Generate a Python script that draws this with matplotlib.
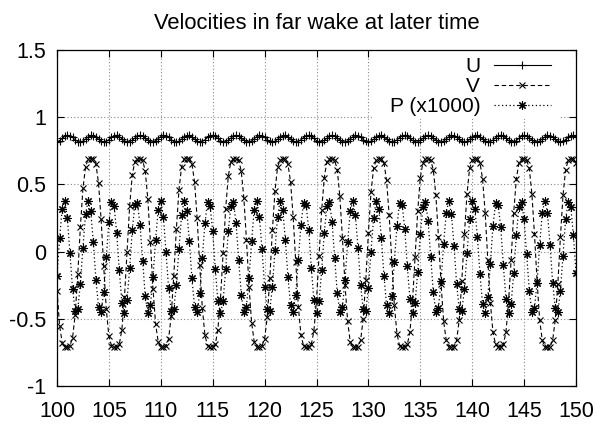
import numpy as np
import matplotlib
matplotlib.use("Agg")
import matplotlib.pyplot as plt
from matplotlib.patches import Rectangle

plt.rcParams['font.family'] = ['Liberation Sans', 'DejaVu Sans']
plt.rcParams['axes.unicode_minus'] = False

# sample times (uniform sampling, dt = 0.25)
t = np.arange(201) * 0.25 + 100.0

U = [0.816,0.826,0.842,0.857,0.865,0.862,0.849,0.832,0.819,0.815,
     0.822,0.837,0.853,0.864,0.863,0.853,0.837,0.822,0.815,0.819,
     0.833,0.850,0.862,0.865,0.856,0.841,0.825,0.816,0.817,0.829,
     0.845,0.859,0.865,0.859,0.845,0.829,0.817,0.816,0.825,0.841,
     0.856,0.865,0.862,0.850,0.833,0.819,0.815,0.822,0.837,0.853,
     0.863,0.864,0.853,0.837,0.822,0.815,0.819,0.832,0.849,0.862,
     0.865,0.857,0.842,0.826,0.816,0.817,0.828,0.845,0.859,0.865,
     0.860,0.846,0.829,0.818,0.816,0.824,0.840,0.856,0.864,0.862,
     0.850,0.834,0.820,0.815,0.821,0.836,0.852,0.863,0.864,0.854,
     0.838,0.823,0.815,0.819,0.832,0.848,0.861,0.865,0.857,0.842,
     0.826,0.816,0.817,0.828,0.844,0.859,0.865,0.860,0.847,0.830,
     0.818,0.815,0.824,0.840,0.855,0.864,0.863,0.851,0.834,0.820,
     0.815,0.821,0.835,0.852,0.863,0.864,0.855,0.839,0.823,0.815,
     0.818,0.831,0.848,0.861,0.865,0.858,0.843,0.827,0.816,0.816,
     0.827,0.843,0.858,0.865,0.861,0.847,0.831,0.818,0.815,0.823,
     0.839,0.855,0.864,0.863,0.851,0.835,0.821,0.815,0.820,0.835,
     0.851,0.863,0.864,0.855,0.839,0.824,0.815,0.818,0.830,0.847,
     0.860,0.865,0.858,0.844,0.827,0.817,0.816,0.826,0.843,0.858,
     0.865,0.861,0.848,0.831,0.819,0.815,0.823,0.838,0.854,0.864,
     0.863,0.852,0.836,0.821,0.815,0.820,0.834,0.850,0.862,0.864,
     0.856]

V = [-0.29,-0.55,-0.68,-0.71,-0.71,-0.70,-0.64,-0.47,-0.17,0.18,
     0.47,0.63,0.69,0.69,0.69,0.65,0.51,0.24,-0.11,-0.43,
     -0.63,-0.70,-0.71,-0.71,-0.69,-0.58,-0.34,0.00,0.34,0.57,
     0.67,0.69,0.69,0.68,0.60,0.39,0.07,-0.28,-0.54,-0.67,
     -0.71,-0.71,-0.70,-0.65,-0.48,-0.18,0.17,0.46,0.63,0.69,
     0.69,0.69,0.65,0.52,0.25,-0.10,-0.42,-0.62,-0.70,-0.71,
     -0.71,-0.69,-0.58,-0.35,-0.01,0.32,0.56,0.67,0.69,0.69,
     0.68,0.60,0.40,0.09,-0.26,-0.53,-0.67,-0.71,-0.71,-0.70,
     -0.65,-0.49,-0.20,0.16,0.45,0.63,0.68,0.69,0.69,0.65,
     0.52,0.26,-0.08,-0.41,-0.62,-0.70,-0.71,-0.71,-0.69,-0.59,
     -0.36,-0.03,0.31,0.55,0.67,0.69,0.69,0.68,0.61,0.41,
     0.10,-0.25,-0.52,-0.67,-0.71,-0.71,-0.71,-0.66,-0.50,-0.21,
     0.14,0.44,0.62,0.68,0.69,0.69,0.66,0.53,0.27,-0.07,
     -0.40,-0.61,-0.70,-0.71,-0.71,-0.69,-0.60,-0.37,-0.04,0.30,
     0.55,0.66,0.69,0.69,0.68,0.61,0.42,0.11,-0.24,-0.52,
     -0.66,-0.71,-0.71,-0.71,-0.66,-0.51,-0.22,0.13,0.43,0.62,
     0.68,0.69,0.69,0.66,0.54,0.29,-0.06,-0.38,-0.60,-0.69,
     -0.71,-0.71,-0.69,-0.60,-0.38,-0.06,0.29,0.54,0.66,0.69,
     0.69,0.68,0.62,0.43,0.13,-0.22,-0.51,-0.66,-0.71,-0.71,
     -0.71,-0.66,-0.51,-0.24,0.11,0.42,0.61,0.68,0.69,0.69,
     0.66]

P = [-0.18,0.10,0.32,0.38,0.25,-0.01,-0.28,-0.44,-0.43,-0.24,
     0.03,0.28,0.38,0.30,0.07,-0.21,-0.41,-0.45,-0.30,-0.04,
     0.22,0.37,0.34,0.14,-0.14,-0.38,-0.46,-0.36,-0.12,0.16,
     0.35,0.36,0.20,-0.07,-0.33,-0.46,-0.40,-0.19,0.09,0.31,
     0.38,0.26,0.00,-0.27,-0.44,-0.43,-0.25,0.02,0.27,0.38,
     0.30,0.08,-0.20,-0.41,-0.45,-0.31,-0.05,0.21,0.37,0.34,
     0.15,-0.13,-0.37,-0.46,-0.37,-0.13,0.15,0.34,0.37,0.21,
     -0.06,-0.32,-0.45,-0.41,-0.20,0.08,0.31,0.38,0.26,0.02,
     -0.26,-0.43,-0.44,-0.26,0.01,0.26,0.38,0.31,0.09,-0.19,
     -0.40,-0.45,-0.32,-0.06,0.20,0.36,0.35,0.16,-0.12,-0.36,
     -0.46,-0.37,-0.14,0.14,0.34,0.37,0.22,-0.05,-0.31,-0.45,
     -0.41,-0.21,0.07,0.30,0.38,0.27,0.03,-0.25,-0.43,-0.44,
     -0.27,0.00,0.25,0.38,0.32,0.10,-0.18,-0.40,-0.46,-0.33,
     -0.08,0.19,0.36,0.35,0.17,-0.11,-0.35,-0.46,-0.38,-0.15,
     0.13,0.33,0.37,0.23,-0.04,-0.30,-0.45,-0.42,-0.22,0.06,
     0.29,0.38,0.28,0.04,-0.24,-0.43,-0.44,-0.28,-0.01,0.24,
     0.38,0.32,0.11,-0.17,-0.39,-0.46,-0.34,-0.09,0.19,0.36,
     0.35,0.18,-0.10,-0.35,-0.46,-0.39,-0.16,0.12,0.33,0.37,
     0.24,-0.02,-0.29,-0.45,-0.42,-0.23,0.05,0.29,0.38,0.29,
     0.05,-0.23,-0.42,-0.45,-0.29,-0.03,0.24,0.37,0.33,0.12,
     -0.16]

labels = ["U", "V", "P (x1000)"]
xticks = [100, 105, 110, 115, 120, 125, 130, 135, 140, 145, 150]
yticks = [-1, -0.5, 0, 0.5, 1, 1.5]
ytick_labels = ["-1", "-0.5", "0", "0.5", "1", "1.5"]
title = "Velocities in far wake at later time"

fig = plt.figure(figsize=(5.95, 4.29), dpi=100)
ax = fig.add_axes([57/595, 1-386/429, (576-57)/595, (386-50)/429])

ax.set_axisbelow(True)
ax.grid(True, color='#888888', linestyle=(0, (1, 2)), linewidth=0.8)

# opaque key area (covers grid)
ax.add_patch(Rectangle((130.3, 0.985), 148.4-130.3, 0.52, facecolor='white',
                       edgecolor='none', zorder=1))

ast = (8, 2, 0)
ax.plot(t, U, color='black', linestyle='-', linewidth=0.8, marker='+',
        markersize=6, markeredgewidth=0.8, label=labels[0], zorder=3)
ax.plot(t, V, color='black', linestyle=(0, (4, 2.5)), linewidth=0.8, marker='x',
        markersize=5, markeredgewidth=0.8, label=labels[1], zorder=3)
ax.plot(t, P, color='black', linestyle=(0, (1, 2)), linewidth=0.9, marker=ast,
        markersize=6, markeredgewidth=0.8, label=labels[2], zorder=3)

ax.set_xlim(100, 150)
ax.set_ylim(-1, 1.5)
ax.set_xticks(xticks)
ax.set_xticklabels([str(v) for v in xticks])
ax.set_yticks(yticks)
ax.set_yticklabels(ytick_labels)
ax.tick_params(direction='in', length=5, width=0.8, top=True, right=True,
               labelsize=15.5, colors='black')
ax.tick_params(axis='y', pad=8)
ax.tick_params(axis='x', pad=11)
for s in ax.spines.values():
    s.set_linewidth(0.9)
    s.set_color('black')

ax.set_title(title, fontsize=15.8, pad=15)

leg = ax.legend(loc='upper right', bbox_to_anchor=(551/595, 1-57/429),
                bbox_transform=fig.transFigure, markerfirst=False,
                frameon=False, fontsize=15, handlelength=2.75,
                handletextpad=0.65, labelspacing=0.05, numpoints=1,
                borderpad=0, borderaxespad=0)

fig.savefig("out.png", dpi=100)
